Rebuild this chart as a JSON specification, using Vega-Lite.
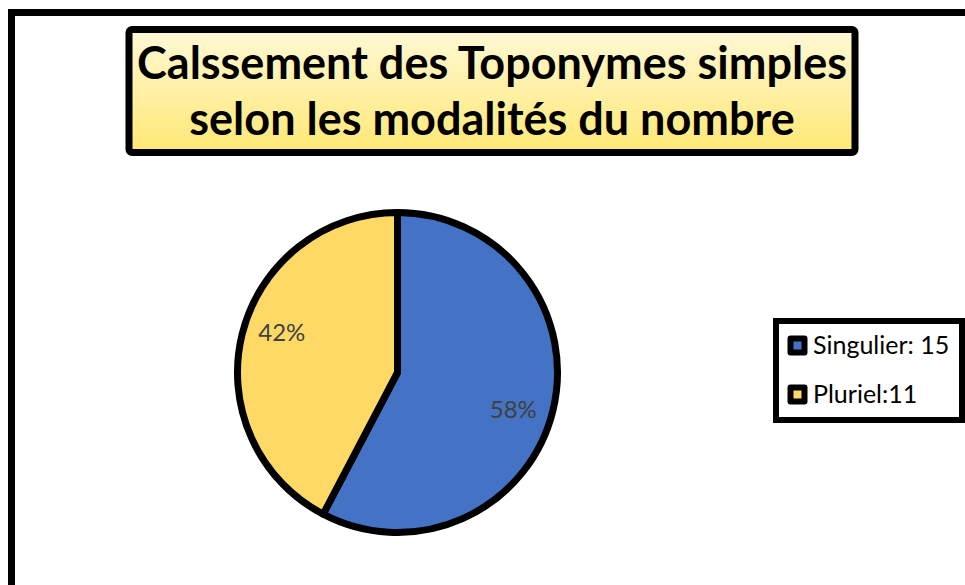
{
  "$schema": "https://vega.github.io/schema/vega-lite/v6.json",
  "padding": {"left": 8, "top": 9, "right": 0, "bottom": 0},
  "background": "white",
  "config": {"view": {"stroke": null}, "concat": {"spacing": 0}},
  "datasets": {
    "pie": [
      {"categorie": "Singulier: 15", "nombre": 15, "pourcentage": "58%"},
      {"categorie": "Pluriel:11", "nombre": 11, "pourcentage": "42%"}
    ],
    "titre": [
      {"texte": "Calssement des Toponymes simples"}
    ]
  },
  "spacing": 0,
  "vconcat": [
    {
      "width": 957, "height": 7,
      "view": {"fill": "black", "stroke": null},
      "mark": {"type": "text", "text": ""},
      "encoding": {}
    },
    {
      "spacing": 110,
      "hconcat": [
        {
          "width": 7, "height": 569,
          "view": {"fill": "black", "stroke": null},
          "mark": {"type": "text", "text": ""},
          "encoding": {}
        },
        {
          "spacing": 8.5,
          "vconcat": [
            {
              "width": 10, "height": 1,
              "mark": {"type": "text", "text": ""},
              "encoding": {}
            },
            {
              "width": 726, "height": 123,
              "data": {"name": "titre"},
              "layer": [
                {
                  "mark": {
                    "type": "rect",
                    "stroke": "black", "strokeWidth": 7, "cornerRadius": 3,
                    "fill": {
                      "gradient": "linear", "x1": 0, "y1": 0, "x2": 0, "y2": 1,
                      "stops": [
                        {"offset": 0, "color": "#FFF8D6"},
                        {"offset": 1, "color": "#FFE874"}
                      ]
                    }
                  },
                  "encoding": {}
                },
                {
                  "mark": {
                    "type": "text",
                    "text": ["Calssement des Toponymes simples", "selon les modalités du nombre"],
                    "font": "Lato", "fontWeight": "bold", "fontSize": 45,
                    "color": "black", "align": "center", "baseline": "alphabetic",
                    "dy": -12, "lineHeight": 56
                  },
                  "encoding": {}
                }
              ]
            },
            {
              "width": 537, "height": 415,
              "data": {"name": "pie"},
              "encoding": {
                "theta": {"field": "nombre", "type": "quantitative", "stack": true},
                "order": {"field": "nombre", "sort": "descending"}
              },
              "layer": [
                {
                  "mark": {"type": "arc", "radius": 160, "stroke": "black", "strokeWidth": 7, "strokeJoin": "round"},
                  "encoding": {
                    "color": {
                      "field": "categorie", "type": "nominal",
                      "scale": {"domain": ["Singulier: 15", "Pluriel:11"], "range": ["#4472C4", "#FFD966"]},
                      "legend": {
                        "title": null, "orient": "none", "legendX": 768, "legendY": 312,
                        "strokeColor": "black", "fillColor": "white", "padding": 12,
                        "symbolType": "square", "symbolSize": 196, "symbolStrokeColor": "black",
                        "symbolStrokeWidth": 6, "symbolOpacity": 1, "symbolOffset": -3,
                        "labelFont": "Lato", "labelFontSize": 25, "labelColor": "black",
                        "labelOffset": 3, "rowPadding": 23, "labelLimit": 300,
                        "encode": {
                          "legend": {"update": {"strokeWidth": {"value": 6}}},
                          "symbols": {"update": {"strokeJoin": {"value": "round"}}}
                        }
                      }
                    }
                  }
                },
                {
                  "mark": {"type": "text", "radius": 122, "thetaOffset": 0.08, "font": "Lato", "fontSize": 24, "color": "#404040"},
                  "encoding": {"text": {"field": "pourcentage", "type": "nominal"}}
                }
              ]
            }
          ]
        }
      ]
    }
  ]
}
